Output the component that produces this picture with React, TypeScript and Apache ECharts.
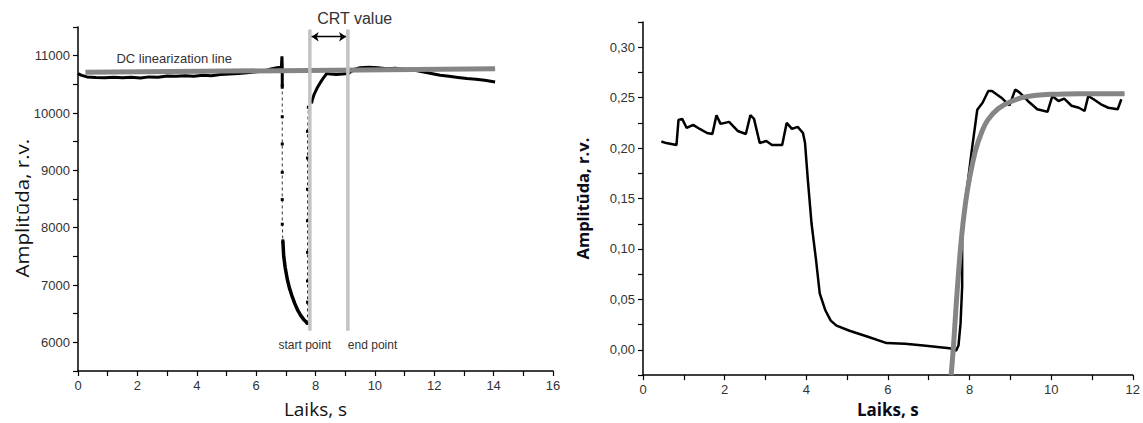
import React, { useEffect, useRef } from "react";
import * as echarts from "echarts";

// ---------- Left chart data (time s, amplitude r.v.) ----------
const leftBefore: [number, number][] = [
  [0, 10690], [0.1, 10660], [0.3, 10630], [0.6, 10620], [0.9, 10615], [1.2, 10625],
  [1.5, 10615], [1.8, 10625], [2.1, 10610], [2.4, 10630], [2.7, 10625], [3.0, 10645],
  [3.3, 10640], [3.6, 10650], [3.9, 10640], [4.2, 10660], [4.5, 10650], [4.8, 10670],
  [5.1, 10680], [5.4, 10690], [5.7, 10700], [6.0, 10720], [6.3, 10740], [6.5, 10770],
  [6.7, 10790], [6.85, 10800], [6.87, 10990], [6.88, 10800], [6.88, 10480],
];
const leftDrop: [number, number][] = [
  [6.88, 10480], [6.88, 10450], [6.88, 9935], [6.88, 9460], [6.88, 8965],
  [6.88, 8490], [6.88, 8060], [6.9, 7770],
];
const leftDip: [number, number][] = [
  [6.9, 7770], [6.93, 7500], [6.98, 7300], [7.05, 7100], [7.12, 6950], [7.2, 6820],
  [7.3, 6680], [7.4, 6560], [7.5, 6470], [7.6, 6400], [7.68, 6360], [7.72, 6330],
];
const leftRise: [number, number][] = [
  [7.73, 6330], [7.73, 6700], [7.73, 7070], [7.73, 7570], [7.73, 8120], [7.73, 8670],
  [7.73, 9215], [7.73, 9680], [7.76, 10100], [7.87, 10190],
];
const leftRecovery: [number, number][] = [
  [7.87, 10190], [7.95, 10320], [8.05, 10430], [8.15, 10520], [8.25, 10600], [8.38, 10690],
  [8.5, 10680], [8.7, 10670], [8.9, 10680], [9.1, 10690], [9.3, 10760], [9.5, 10790],
  [9.8, 10800], [10.1, 10790], [10.4, 10770], [10.7, 10780], [11.0, 10760], [11.3, 10750],
  [11.6, 10720], [11.9, 10690], [12.2, 10660], [12.5, 10640], [12.8, 10620], [13.1, 10600],
  [13.4, 10590], [13.7, 10570], [14.05, 10540],
];
const dcLine: [number, number][] = [[0.25, 10710], [14.05, 10770]];
const startLine: [number, number][] = [[7.81, 11455], [7.81, 6200]];
const endLine: [number, number][] = [[9.09, 11455], [9.09, 6200]];
const crtArrowY = 11330;

// ---------- Right chart data ----------
const rightSignal: [number, number][] = [
  [0.45, 0.2066], [0.57, 0.205], [0.82, 0.203], [0.87, 0.228], [0.96, 0.229], [1.07, 0.22],
  [1.23, 0.223], [1.39, 0.219], [1.57, 0.215], [1.7, 0.214], [1.8, 0.2326], [1.9, 0.224],
  [2.11, 0.226], [2.32, 0.217], [2.52, 0.214], [2.63, 0.2326], [2.72, 0.229], [2.86, 0.205],
  [3.02, 0.207], [3.16, 0.203], [3.41, 0.203], [3.52, 0.225], [3.65, 0.219], [3.79, 0.221],
  [3.92, 0.215], [3.97, 0.205], [4.04, 0.168], [4.13, 0.125], [4.24, 0.089], [4.33, 0.056],
  [4.47, 0.039], [4.6, 0.029], [4.74, 0.024], [5.06, 0.019], [5.51, 0.013], [5.97, 0.0067],
  [6.42, 0.006], [6.87, 0.0043], [7.51, 0.0017], [7.67, -0.0007], [7.73, 0.0043],
  [7.78, 0.026], [7.82, 0.063], [7.82, 0.122], [7.91, 0.151], [8.05, 0.196], [8.19, 0.238],
  [8.32, 0.245], [8.46, 0.2566], [8.55, 0.2566], [8.78, 0.25], [8.98, 0.2424], [9.12, 0.258],
  [9.23, 0.255], [9.43, 0.2467], [9.66, 0.2385], [9.91, 0.236], [10.03, 0.2516],
  [10.18, 0.2467], [10.32, 0.249], [10.5, 0.242], [10.68, 0.24], [10.82, 0.2368],
  [10.91, 0.2516], [11.04, 0.2484], [11.22, 0.2434], [11.4, 0.24], [11.63, 0.2385],
  [11.72, 0.2484],
];
const rightFit: [number, number][] = [
  [7.55, -0.025], [7.6, 0.0], [7.65, 0.03], [7.7, 0.06], [7.8, 0.11], [7.9, 0.145],
  [8.0, 0.17], [8.15, 0.198], [8.3, 0.216], [8.45, 0.228], [8.7, 0.239], [9.0, 0.246],
  [9.4, 0.251], [10.0, 0.2533], [10.7, 0.254], [11.8, 0.254],
];

const LEFT_X_MAX = 16;
const RIGHT_X_MAX = 12;
const yTitle = "Amplitūda, r.v.";
const xTitle = "Laiks, s";

const tickFont = "Liberation Sans, Arial, sans-serif";
const titleFont = "Open Sans, sans-serif";

export default function App() {
  const ref = useRef<HTMLDivElement>(null);
  useEffect(() => {
    document.body.style.margin = "0";
    if (!ref.current) return;
    const chart = echarts.init(ref.current, undefined, { renderer: "svg" });
    const axisLine = { show: true, onZero: false, lineStyle: { color: "#000", width: 1.5 } };
    const axisTick = { show: true, inside: false, length: 5, lineStyle: { color: "#000", width: 1.2 } };
    const labelStyle = { color: "#333", fontSize: 13, fontFamily: tickFont };
    const black = "#000";
    const option: any = {
      animation: false,
      backgroundColor: "#fff",
      grid: [
        { left: 78, top: 27, width: 475, height: 346 },
        { left: 643, top: 22, width: 492, height: 354 },
      ],
      xAxis: [
        {
          gridIndex: 0, type: "value", min: 0, max: LEFT_X_MAX, interval: 1,
          axisLine, axisTick, splitLine: { show: false },
          axisLabel: { ...labelStyle, margin: 8, formatter: (v: number) => (v % 2 === 0 ? String(v) : "") },
          name: xTitle, nameLocation: "middle", nameGap: 28,
          nameTextStyle: { fontFamily: titleFont, fontSize: 19, color: "#111" },
        },
        {
          gridIndex: 1, type: "value", min: 0, max: RIGHT_X_MAX, interval: 1,
          axisLine, axisTick, splitLine: { show: false },
          axisLabel: { ...labelStyle, margin: 8, formatter: (v: number) => (v % 2 === 0 ? String(v) : "") },
          name: xTitle, nameLocation: "middle", nameGap: 24,
          nameTextStyle: { fontFamily: titleFont, fontSize: 17, fontWeight: "bold", color: "#0b0b1a" },
        },
      ],
      yAxis: [
        {
          gridIndex: 0, type: "value", min: 5500, max: 11500, interval: 500,
          axisLine, axisTick, splitLine: { show: false },
          axisLabel: { ...labelStyle, margin: 8, formatter: (v: number) => (v % 1000 === 0 ? String(v) : "") },
        },
        {
          gridIndex: 1, type: "value", min: -0.025, max: 0.325, interval: 0.025,
          axisLine, axisTick, splitLine: { show: false },
          axisLabel: {
            ...labelStyle, margin: 8,
            formatter: (v: number) => {
              let r = Math.round(v * 1000) / 1000;
              if (Math.abs(r) < 1e-9) r = 0;
              const k = r * 20;
              return Math.abs(k - Math.round(k)) < 1e-6 ? r.toFixed(2).replace(".", ",") : "";
            },
          },
          name: yTitle, nameLocation: "middle", nameGap: 52,
          nameTextStyle: { fontFamily: titleFont, fontSize: 16.5, fontWeight: "bold", color: "#0b0b1a" },
        },
      ],
      series: [
        {
          type: "line", xAxisIndex: 0, yAxisIndex: 0, data: leftBefore, showSymbol: false,
          lineStyle: { color: black, width: 3 }, z: 2,
        },
        {
          type: "line", xAxisIndex: 0, yAxisIndex: 0, data: leftDrop, showSymbol: true,
          symbol: "rect", symbolSize: 3, itemStyle: { color: black },
          lineStyle: { color: "#333", width: 1, type: [3, 3] }, z: 2,
        },
        {
          type: "line", xAxisIndex: 0, yAxisIndex: 0, data: leftDip, showSymbol: false,
          lineStyle: { color: black, width: 3.5 }, z: 2,
        },
        {
          type: "line", xAxisIndex: 0, yAxisIndex: 0, data: leftRise, showSymbol: true,
          symbol: "rect", symbolSize: 3, itemStyle: { color: black },
          lineStyle: { color: "#333", width: 1, type: [3, 3] }, z: 2,
        },
        {
          type: "line", xAxisIndex: 0, yAxisIndex: 0, data: leftRecovery, showSymbol: false,
          lineStyle: { color: black, width: 3 }, z: 2,
        },
        {
          type: "line", xAxisIndex: 0, yAxisIndex: 0, data: dcLine, showSymbol: false,
          lineStyle: { color: "#858585", width: 5 }, z: 3,
        },
        {
          type: "line", xAxisIndex: 0, yAxisIndex: 0, data: startLine, showSymbol: false,
          lineStyle: { color: "#c3c3c3", width: 3.5 }, z: 4,
        },
        {
          type: "line", xAxisIndex: 0, yAxisIndex: 0, data: endLine, showSymbol: false,
          lineStyle: { color: "#c3c3c3", width: 3.5 }, z: 4,
          markLine: {
            silent: true, symbol: ["arrow", "arrow"], symbolSize: 7,
            label: { show: false },
            lineStyle: { color: black, width: 1.3, type: "solid" },
            data: [[{ coord: [startLine[0][0] + 0.06, crtArrowY] }, { coord: [endLine[0][0] - 0.06, crtArrowY] }]],
          },
        },
        {
          type: "line", xAxisIndex: 1, yAxisIndex: 1, data: rightSignal, showSymbol: false,
          lineStyle: { color: black, width: 2.5 }, z: 2,
        },
        {
          type: "line", xAxisIndex: 1, yAxisIndex: 1, data: rightFit, showSymbol: false, smooth: 0.3,
          lineStyle: { color: "#858585", width: 5 }, z: 3,
        },
      ],
    };
    chart.setOption(option);

    const px = (x: number, y: number) => chart.convertToPixel({ gridIndex: 0 } as any, [x, y]) as number[];
    const pDC = px(3.24, 10942);
    const pCRT = px(9.32, 11640);
    const pStart = px(7.64, 5951);
    const pEnd = px(endLine[0][0], 5951);
    const pTitle = px(-1.9, 8340);
    const txt = (p: number[], text: string, size: number, align: string) => ({
      type: "text", x: p[0], y: p[1], silent: true,
      style: { text, fill: "#333", font: `${size}px ${tickFont}`, align, verticalAlign: "middle" },
    });
    chart.setOption({
      graphic: [
        txt(pDC, "DC linearization line", 13, "center"),
        txt(pCRT, "CRT value", 16, "center"),
        txt(pStart, "start point", 12, "center"),
        txt(pEnd, "end point", 12, "left"),
        {
          type: "text", x: pTitle[0], y: pTitle[1], rotation: Math.PI / 2, scaleX: 1.08, silent: true,
          style: { text: yTitle, fill: "#111", font: `19px ${titleFont}`, align: "center", verticalAlign: "middle" },
        },
      ],
    });
    return () => chart.dispose();
  }, []);
  return <div ref={ref} style={{ width: 1143, height: 423 }} />;
}
